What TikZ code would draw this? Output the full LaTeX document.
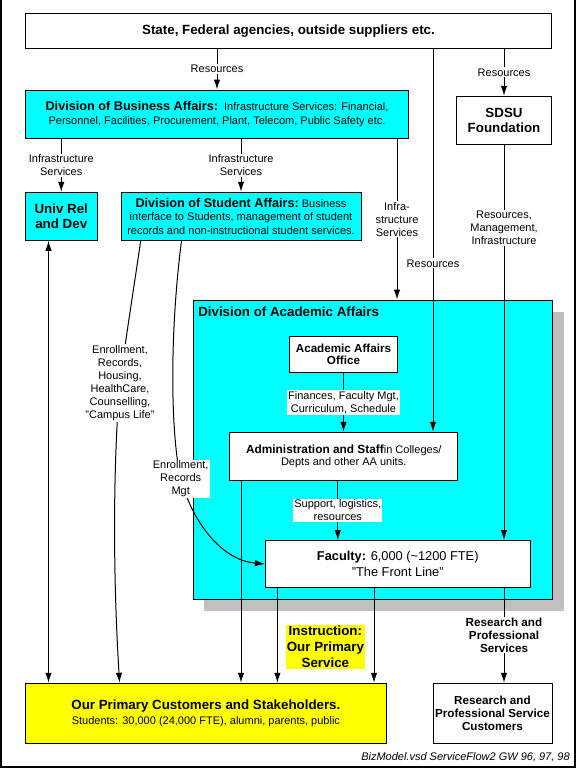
\documentclass[tikz,border=0pt]{standalone}
\usepackage{fontspec}
\setmainfont{Liberation Sans}
\usetikzlibrary{arrows.meta,shadows}

\definecolor{aqua}{RGB}{0,255,255}
\definecolor{lemon}{RGB}{255,255,0}
\definecolor{shade}{RGB}{192,192,192}

\newcommand{\fnlbl}{\fontsize{8.25}{9.75}\selectfont}
\newcommand{\fnbig}{\fontsize{10}{11.7}\selectfont}
\newcommand{\fnmid}{\fontsize{8.75}{9.4}\selectfont}

\tikzset{
  wh/.style 2 args={minimum width=#1*0.75pt, minimum height=#2*0.75pt},
  box/.style={draw, line width=0.75pt, inner sep=0pt, align=center},
  lbl/.style={fill=white, inner sep=0.8pt, align=center, font=\fnlbl},
  arr/.style={line width=0.75pt, -{Latex[length=7.5pt,width=4.8pt]}},
  arrboth/.style={line width=0.75pt, {Latex[length=7.5pt,width=4.8pt]}-{Latex[length=7.5pt,width=4.8pt]}},
}

\begin{document}
\begin{tikzpicture}[x=0.75pt, y=-0.75pt]
  \useasboundingbox (0,0) rectangle (578,769);
  \draw [line width=1.5pt] (1,0) -- (1,767) -- (574.5,767) -- (574.5,0);

  % columns of the vertical connectors
  \coordinate (resx) at (433,0);
  \coordinate (infx) at (397,0);
  \coordinate (supx) at (337.8,0);
  \coordinate (urx) at (48.5,0);
  \coordinate (admx) at (241,0);
  \coordinate (fx1) at (277.4,0);
  \coordinate (fx2) at (374,0);
  \coordinate (cx1) at (140.7,0);
  \coordinate (cx2) at (181.5,0);
  \coordinate (cx3) at (119.6,0);
  \coordinate (e1) at (120,383);
  \coordinate (e2) at (180.7,479);

  % boxes
  \node [box, wh={526}{35}, font={\fnbig\bfseries}] (state) at (288.5,30.8) {State, Federal agencies, outside suppliers etc.};
  \node [box, fill=aqua, wh={383}{48.3}, font={\fontsize{8.25}{11}\selectfont}] (bus) at (217,114.2)
    {{\fontsize{9.5}{11}\selectfont\bfseries Division of Business Affairs:}\ \ Infrastructure Services: Financial,\\Personnel, Facilities, Procurement, Plant, Telecom, Public Safety etc.};
  \node [box, wh={95}{48}, font={\fnbig\bfseries}] (sdsu) at (504,120.3) {SDSU\\Foundation};
  \node [box, fill=aqua, wh={71.5}{48}, font={\fnbig\bfseries}] (univ) at (61.25,216.3) {Univ Rel\\and Dev};
  \node [box, fill=aqua, wh={240}{48}, font={\fontsize{8.25}{10.2}\selectfont}] (stud) at (241,216.3)
    {{\fontsize{9.5}{10.2}\selectfont\bfseries Division of Student Affairs:}\ Business\\interface to Students, management of student\\records and non-instructional student services.};
  \node [box, fill=aqua, wh={359.5}{299.3},
    drop shadow={shadow xshift=8.6pt, shadow yshift=-8.6pt, fill=shade, opacity=1}] (acad) at (372.75,449.7) {};
  \node [font={\fnbig\bfseries}, anchor=west, inner sep=0pt] (acadtitle) at (198,312) {Division of Academic Affairs};
  \node [box, fill=white, wh={107.8}{35.6}, font={\fnmid\bfseries}] (aao) at (343.5,354.5) {Academic Affairs\\Office};
  \node [box, fill=white, wh={228.2}{48}, font={\fontsize{8.25}{9.5}\selectfont}] (admin) at (343.7,456.3)
    {{\fontsize{8.9}{9.5}\selectfont\bfseries Administration and Staff}in Colleges/\\Depts and other AA units.};
  \node [box, fill=white, wh={264.5}{46.6}, font={\fontsize{9.6}{12.3}\selectfont}] (fac) at (397.75,564)
    {\textbf{Faculty:} 6,000 (\textasciitilde1200 FTE)\\"The Front Line"};
  \node [box, fill=lemon, wh={360.8}{60}, font={\fontsize{8.25}{10.7}\selectfont}] (cust) at (205.9,713.3)
    {{\fnbig\bfseries Our Primary Customers and Stakeholders.}\\Students: 30,000 (24,000 FTE), alumni, parents, public};
  \node [box, wh={119}{60}, font={\fnmid\bfseries}] (rpsc) at (492.5,713.3) {Research and\\Professional Service\\Customers};
  \node [fill=lemon, align=center, inner sep=1pt, font={\fontsize{10}{12}\selectfont\bfseries}] (instr) at (325.4,646.9)
    {Instruction:\\Our Primary\\Service};
  \node [font=\fnlbl, anchor=east, inner sep=0pt] (foot) at (570,757) {\itshape BizModel.vsd ServiceFlow2 GW 96, 97, 98};

  % flows from outside
  \draw [arr] (state.south -| bus.north) -- node [lbl] {Resources} (bus.north);
  \draw [arr] (state.south -| sdsu.north) -- node [lbl] {Resources} (sdsu.north);
  \draw [arr] (state.south -| resx) -- node [lbl, pos=0.56] {Resources} (admin.north -| resx);

  % business affairs
  \draw [arr] (bus.south -| univ.north) -- node [lbl] {Infrastructure\\Services} (univ.north);
  \draw [arr] (bus.south -| stud.north) -- node [lbl] {Infrastructure\\Services} (stud.north);
  \draw [arr] (bus.south -| infx) -- node [lbl] {Infra-\\structure\\Services} (acad.north -| infx);
  \draw [arr] (sdsu.south) -- node [lbl, pos=0.21] {Resources,\\Management,\\Infrastructure} (fac.north -| sdsu.south);

  % inside academic affairs
  \draw [arr] (aao.south) -- node [lbl] {Finances, Faculty Mgt,\\Curriculum, Schedule} (admin.north -| aao.south);
  \draw [arr] (admin.south -| supx) -- node [lbl] {Support, logistics,\\resources} (fac.north -| supx);

  % to the customers
  \draw [arrboth] (univ.south -| urx) -- (cust.north -| urx);
  \draw [arr] (admin.south -| admx) -- (cust.north -| admx);
  \draw [arr] (fac.south -| fx1) -- (cust.north -| fx1);
  \draw [arr] (fac.south -| fx2) -- (cust.north -| fx2);
  \draw [arr] (fac.south -| sdsu.south) -- node [lbl, font={\fnmid\bfseries}] {Research and\\Professional\\Services} (rpsc.north -| sdsu.south);

  % student affairs curves
  \draw [arr] (stud.south -| cx1) .. controls (132,300) and (124,350) .. (e1)
    .. controls (114,450) and (112,560) .. (cust.north -| cx3);
  \node [lbl] (enr) at (e1) {Enrollment,\\Records,\\Housing,\\HealthCare,\\Counselling,\\"Campus Life"};
  \draw [arr] (stud.south -| cx2) .. controls (170,330) and (170,430) .. (e2)
    .. controls (192,520) and (220,560) .. (fac.west);
  \node [lbl] (enrmgt) at (e2) {Enrollment,\\Records\\Mgt};
\end{tikzpicture}
\end{document}
